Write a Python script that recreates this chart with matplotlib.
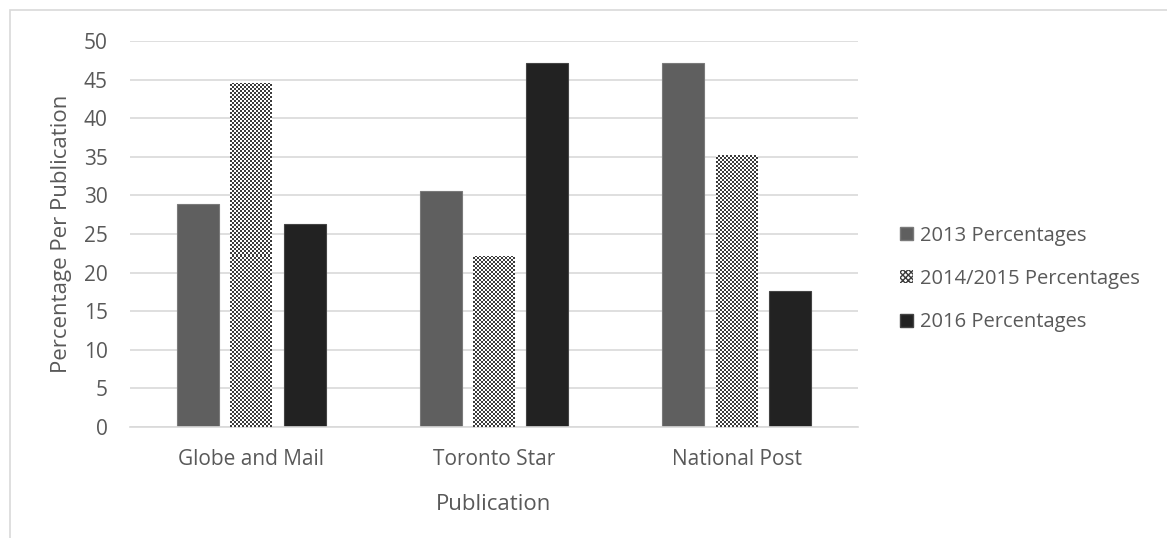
import numpy as np
import matplotlib
matplotlib.use("Agg")
import matplotlib.pyplot as plt
from matplotlib.colors import ListedColormap
from matplotlib.patches import Patch, Rectangle

publications = ["Globe and Mail", "Toronto Star", "National Post"]
series_names = ["2013 Percentages", "2014/2015 Percentages", "2016 Percentages"]
pct_2013 = [28.9, 30.6, 47.1]
pct_2014_2015 = [44.6, 22.2, 35.2]
pct_2016 = [26.3, 47.2, 17.6]

text_col = "#595959"
grid_col = "#d9d9d9"

plt.rcParams["font.family"] = ["Open Sans", "DejaVu Sans"]
fs = 15

W, H = 1167, 538
fig = plt.figure(figsize=(W / 100, H / 100), dpi=100)
ax = fig.add_axes([130 / W, 1 - 427 / H, (858 - 130) / W, (427 - 41) / H])

# light frame around the chart area (cut off at right/bottom like the source)
fig.patches.append(Rectangle((10 / W, -0.05), 1.2, 1 - 10 / H + 0.05,
                             transform=fig.transFigure, fill=False,
                             edgecolor=grid_col, linewidth=1.2))

x = np.arange(len(publications))
bw = 0.173
step = 0.22

b13 = ax.bar(x - step, pct_2013, bw, color="#5f5f5f", edgecolor="#7a7a7a",
             linewidth=0.8, zorder=2)
b14 = ax.bar(x, pct_2014_2015, bw, color="white", linewidth=0, zorder=2)
b16 = ax.bar(x + step, pct_2016, bw, color="#222222", edgecolor="#444444",
             linewidth=0.8, zorder=2)

ax.set_xlim(-0.5, 2.5)
ax.set_ylim(0, 50)

# fine checkerboard fill for the 2014/2015 bars
checker = ListedColormap(["white", "#3c3c3c"])
for rect in b14:
    x0, y0 = rect.get_x(), rect.get_y()
    x1, y1 = x0 + rect.get_width(), y0 + rect.get_height()
    (px0, py0), (px1, py1) = ax.transData.transform([(x0, y0), (x1, y1)])
    nc = max(1, int(round((px1 - px0) / 2)))
    nr = max(1, int(round((py1 - py0) / 2)))
    pattern = np.indices((nr, nc)).sum(axis=0) % 2
    im = ax.imshow(pattern, cmap=checker, extent=(x0, x1, y0, y1),
                   aspect="auto", interpolation="nearest", zorder=3)
    im.set_clip_path(rect)
ax.set_xlim(-0.5, 2.5)
ax.set_ylim(0, 50)

ax.set_yticks(np.arange(0, 51, 5))
ax.yaxis.grid(True, color=grid_col, linewidth=1.2, zorder=0)
ax.set_axisbelow(True)
ax.set_xticks(x)
ax.set_xticklabels(publications)
for s in ax.spines.values():
    s.set_visible(False)
ax.spines["bottom"].set_visible(True)
ax.spines["bottom"].set_color(grid_col)
ax.spines["bottom"].set_linewidth(1.2)
ax.tick_params(axis="both", length=0, colors=text_col, labelsize=fs)
ax.tick_params(axis="y", pad=16)
ax.tick_params(axis="x", pad=16)

ax.set_xlabel("Publication", color=text_col, fontsize=16, va="center")
ax.xaxis.set_label_coords(0.5, (427 - 505) / 386)
ax.set_ylabel("Percentage Per Publication", color=text_col, fontsize=16,
              va="center")
ax.yaxis.set_label_coords((62 - 130) / 728, 0.5)

handles = [
    Patch(facecolor="#5f5f5f", edgecolor="#7a7a7a"),
    Patch(facecolor="white", edgecolor="#3c3c3c", hatch="xxxxxx", linewidth=0),
    Patch(facecolor="#222222", edgecolor="#444444"),
]
leg = fig.legend(handles, series_names, loc="center left",
                 bbox_to_anchor=(882 / W, 1 - 279 / H), frameon=False,
                 handlelength=0.62, handleheight=0.62, handletextpad=0.35,
                 labelspacing=1.15, fontsize=14.5, labelcolor=text_col)

fig.savefig("out.png", dpi=100)
